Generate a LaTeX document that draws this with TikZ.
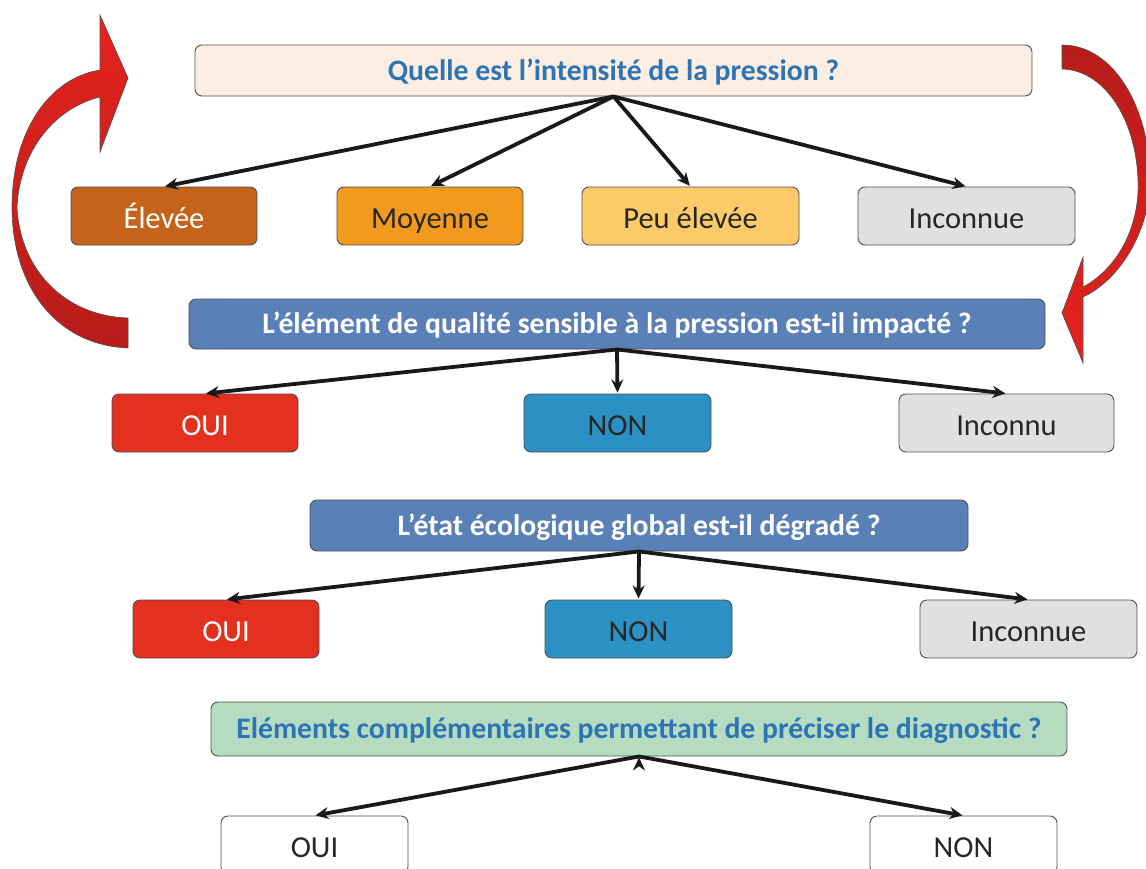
\documentclass[tikz,border=0pt]{standalone}
\usepackage{fontspec}
\setmainfont{Carlito}
\usetikzlibrary{arrows.meta}

\definecolor{boxline}{HTML}{505050}
\definecolor{qblue}{HTML}{2E74B5}
\definecolor{peach}{HTML}{FCEEE3}
\definecolor{rust}{HTML}{C5631A}
\definecolor{orange}{HTML}{F29A1E}
\definecolor{sand}{HTML}{FBCB6A}
\definecolor{lightgrey}{HTML}{E0E0DF}
\definecolor{slate}{HTML}{5A80B8}
\definecolor{ouired}{HTML}{E3301F}
\definecolor{nonblue}{HTML}{2B91C4}
\definecolor{mint}{HTML}{B5DBC0}
\definecolor{darktext}{HTML}{262626}
\definecolor{redlight}{HTML}{E5231D}
\definecolor{reddark}{HTML}{B71C1A}

\begin{document}
\begin{tikzpicture}[x=1pt,y=-1pt,>={Stealth[length=13pt,width=12pt]},
      box/.style={draw=boxline,line width=0.9pt,rounded corners=7pt,minimum height=58pt,
        inner sep=0pt,text=darktext,text depth=0pt},
      question/.style={box,text height=19.5pt,font=\fontsize{29.7}{34}\selectfont\bfseries},
      answer/.style={box,minimum width=186pt,text height=25.5pt,font=\fontsize{30.5}{35}\selectfont},
      link/.style={->,draw={black!90},line width=3.8pt,line cap=round,shorten >=1pt},
      loop arrow/.style={draw=boxline,line width=0.6pt}]
      \useasboundingbox (0,0) rectangle (1146,868);

      % questions
      \node[question,fill=peach,text=qblue,minimum width=837pt,minimum height=51pt] (q1) at (613.5,70.5) {Quelle est l’intensité de la pression ?};
      \node[question,fill=slate,text=white,minimum width=856pt,minimum height=50pt] (q2) at (617,324) {L’élément de qualité sensible à la pression est-il impacté ?};
      \node[question,fill=slate,text=white,minimum width=658pt,minimum height=51pt] (q3) at (639,525.5) {L’état écologique global est-il dégradé ?};
      \node[question,fill=mint,text=qblue,minimum width=856pt,minimum height=54pt] (q4) at (639,729) {Eléments complémentaires permettant de préciser le diagnostic ?};

      % answers
      \node[answer,fill=rust,text=white] (elevee) at (164,216) {Élevée};
      \node[answer,fill=orange] (moyenne) at (430,216) {Moyenne};
      \node[answer,fill=sand,minimum width=217pt] (peu) at (690.5,216) {Peu élevée};
      \node[answer,fill=lightgrey,minimum width=217pt] (inconnueA) at (966.5,216) {Inconnue};

      \node[answer,fill=ouired,text=white] (ouiA) at (205,423) {OUI};
      \node[answer,fill=nonblue,minimum width=187pt] (nonA) at (617.5,423) {NON};
      \node[answer,fill=lightgrey,minimum width=215pt] (inconnuB) at (1006.5,423) {Inconnu};

      \node[answer,fill=ouired,text=white] (ouiB) at (226,629) {OUI};
      \node[answer,fill=nonblue,minimum width=187pt] (nonB) at (638.5,629) {NON};
      \node[answer,fill=lightgrey,minimum width=217pt] (inconnueC) at (1028.5,629) {Inconnue};

      \node[answer,fill=white,minimum width=187pt] (ouiC) at (314.5,845) {OUI};
      \node[answer,fill=white,minimum width=187pt] (nonC) at (963.5,845) {NON};

      \path[link]
        (q1.south) edge (elevee.north)
        (q1.south) edge (moyenne.north)
        (q1.south) edge (peu.north)
        (q1.south) edge (inconnueA.north)
        (q2.south) edge (ouiA.north)
        (q2.south) edge (nonA.north)
        (q2.south) edge (inconnuB.north)
        (q3.south) edge (ouiB.north)
        (q3.south) edge (nonB.north)
        (q3.south) edge (inconnueC.north)
        (q4.south) edge (ouiC.north)
        (q4.south) edge (nonC.north);

      % red loop arrows
      \path[loop arrow,top color=redlight,bottom color=reddark]
        (128,348) .. controls (55,345) and (12,285) .. (12,207)
        .. controls (12,130) and (50,78) .. (100,70)
        -- (100,15) -- (128,78) -- (100,152) -- (100,97)
        .. controls (55,108) and (20,150) .. (17,207)
        .. controls (20,270) and (65,316) .. (128,318) -- cycle;
      \path[loop arrow,top color=reddark,bottom color=redlight]
        (1062,45) .. controls (1115,45) and (1150,110) .. (1150,180)
        .. controls (1150,230) and (1120,280) .. (1083,297)
        -- (1083,363) -- (1062,313) -- (1083,257) -- (1083,287)
        .. controls (1115,270) and (1140,230) .. (1138,180)
        .. controls (1136,120) and (1105,70) .. (1062,69) -- cycle;
    \end{tikzpicture}
\end{document}
